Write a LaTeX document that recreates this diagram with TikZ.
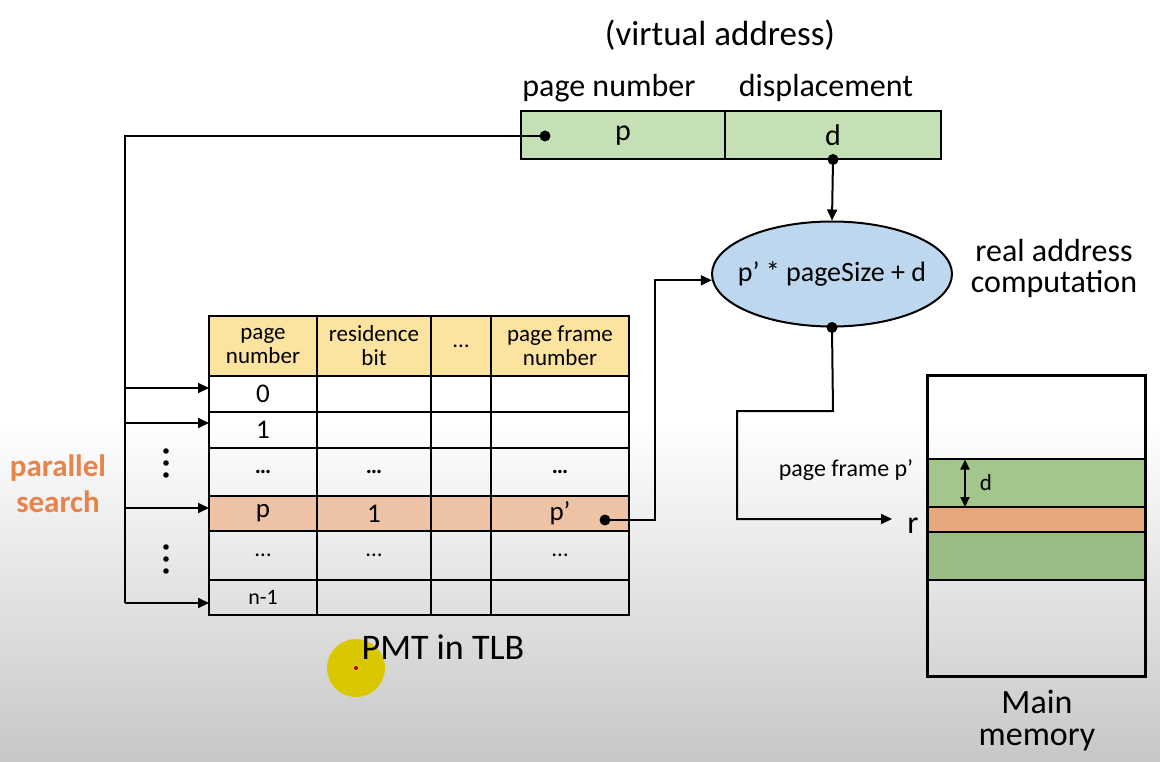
\documentclass[tikz,border=0pt]{standalone}
\usepackage{fontspec}
\setmainfont{Carlito}
\usetikzlibrary{arrows.meta,shapes.geometric}

\definecolor{hdr}{HTML}{FCE4A0}
\definecolor{hit}{HTML}{EEC3A5}
\definecolor{vagreen}{HTML}{C5E0B4}
\definecolor{compblue}{HTML}{BDD7EE}
\definecolor{memgreenA}{HTML}{A3C68C}
\definecolor{memgreenB}{HTML}{99BB84}
\definecolor{memorange}{HTML}{E8A87D}
\definecolor{searchorange}{HTML}{E8834A}
\definecolor{pointer}{HTML}{D9C800}

% font size, and font size with its own leading
\newcommand{\fs}[1]{\fontsize{#1}{#1}\selectfont}
\newcommand{\fsl}[2]{\fontsize{#1}{#2}\selectfont}

\tikzset{
  line/.style={line width=2pt, black},
  arr/.style={line, -{Triangle[length=11pt,width=10pt]}},
  dotc/.style={circle, fill=black, inner sep=0pt, minimum size=11pt},
  cell/.style={draw, line width=2pt, inner sep=0pt, align=center},
  lbl/.style={inner sep=0pt, align=center},
}

\begin{document}
\begin{tikzpicture}[x=1pt,y=-1pt]
\useasboundingbox (0,0) rectangle (1160,762);

% background: white top fading into grey at the bottom
\fill[white] (0,0) rectangle (1160,420);
\shade[top color=white, bottom color=black!22] (0,420) rectangle (1160,762);

% virtual address
\node[lbl, font=\fs{35}] (title) at (720,35) {(virtual address)};
\node[lbl, font=\fs{32}] (lblpn) at (609,88) {page number};
\node[lbl, font=\fs{32}] (lbldisp) at (826,88) {displacement};
\node[cell, fill=vagreen, minimum width=204, minimum height=48, font=\fs{30}] (vaP) at (623,135.5) {p};
\node[cell, fill=vagreen, minimum width=216, minimum height=48, font=\fs{30}] (vaD) at (833,135.5) {d};
\node[dotc] (dotP) at (545,136) {};
\node[dotc] (dotD) at (833,159.5) {};

% page map table held in the TLB
\def\colxA{263} \def\colxB{374} \def\colxC{461} \def\colxD{560}
\def\colwA{108} \def\colwB{114} \def\colwC{60} \def\colwD{138}
\foreach \r/\yc/\h/\fc/\fz/\ta/\tb/\tc/\td in {
  0/346/60/hdr/23/{page\\number}/{residence\\bit}/{…}/{page frame\\number},
  1/394/36/none/27/0/{}/{}/{},
  2/430/36/none/27/1/{}/{}/{},
  3/472/48/none/23/{\textbf{…}}/{\textbf{…}}/{}/{\textbf{…}},
  4/513.5/35/hit/27/p/1/{}/{p’},
  5/555.5/49/none/23/{…}/{…}/{}/{…},
  6/597.5/35/none/22/n-1/{}/{}/{}}{
  \node[cell, fill=\fc, minimum width=\colwA, minimum height=\h, font=\fsl{\fz}{24}] (c\r a) at (\colxA,\yc) {\ta};
  \node[cell, fill=\fc, minimum width=\colwB, minimum height=\h, font=\fsl{\fz}{24}] (c\r b) at (\colxB,\yc) {\tb};
  \node[cell, fill=\fc, minimum width=\colwC, minimum height=\h, font=\fsl{\fz}{24}] (c\r c) at (\colxC,\yc) {\tc};
  \node[cell, fill=\fc, minimum width=\colwD, minimum height=\h, font=\fsl{\fz}{24}] (c\r d) at (\colxD,\yc) {\td};
}
% pointer highlight, under the caption
\fill[pointer] (356,668) circle (29);
\fill[red!70!black] (356,668) circle (2);
\node[lbl, font=\fs{36}] (pmt) at (443,647) {PMT in TLB};
\node[dotc] (dotPp) at (605,520) {};

% parallel search bus
\coordinate (busTop) at (125,136);
\coordinate (busBot) at (125,603);
\coordinate (in0) at (209,388);
\coordinate (in1) at (209,423);
\coordinate (inp) at (209,508);
\coordinate (inn) at (209,603);
\draw[line] (dotP.center) -- (busTop) -- (busBot);
\draw[arr] (in0 -| busTop) -- (in0);
\draw[arr] (in1 -| busTop) -- (in1);
\draw[arr] (inp -| busTop) -- (inp);
\draw[arr] (busBot) -- (inn);
\foreach \y in {451,463,475} \fill (166,\y) circle (2.8pt);
\foreach \y in {547,559,571} \fill (166,\y) circle (2.8pt);
\node[lbl, font=\bfseries\fsl{31}{36}, text=searchorange] (psearch) at (58,484) {parallel\\search};

% real address computation
\node[ellipse, draw, line width=2pt, fill=compblue, minimum width=240, minimum height=105, inner sep=0pt] (comp) at (832,274) {};
\node[lbl, font=\fs{28}] (compText) at (comp.center) {p’ * pageSize + d};
\node[lbl, font=\fsl{32}{31}] (lblreal) at (1054,268) {real address\\computation};
\draw[arr] (dotD.center) -- (comp.north);
\coordinate (upTurn) at (655,520);
\draw[arr] (dotPp.center) -- (upTurn) -- (upTurn |- comp.183) -- (comp.183);
\node[dotc] (dotC) at (comp.south) {};

% main memory
\node[cell, minimum width=217, minimum height=300] (mem) at (1036.5,525.7) {};
\node[cell, fill=memgreenA, minimum width=217, minimum height=48] (frameTop) at (1036.5,483.3) {};
\node[cell, fill=memorange, minimum width=217, minimum height=24.5] (rline) at (1036.5,519.5) {};
\node[cell, fill=memgreenB, minimum width=217, minimum height=48.5] (frameBot) at (1036.5,556) {};
\draw[line] (mem.north west) rectangle (mem.south east);
\node[lbl, font=\fsl{34}{32}] (lblmem) at (1037,721) {Main\\memory};
\node[lbl, font=\fs{24}] (lblframe) at (846,470) {page frame p’};
\coordinate (dTop) at (965,459.5);
\coordinate (dBot) at (965,507);
\draw[line, {Triangle[length=10pt,width=9pt]}-{Triangle[length=10pt,width=9pt]}] (dTop) -- (dBot);
\node[lbl, font=\fs{23}] (lbld) at (986,483) {d};
\node[lbl, font=\fs{32}] (lblr) at (913,526) {r};
\coordinate (turn1) at (833,411);
\coordinate (turn2) at (737,411);
\coordinate (rIn) at (892,519);
\draw[arr] (dotC.center) -- (turn1) -- (turn2) -- (turn2 |- rIn) -- (rIn);
\end{tikzpicture}
\end{document}
